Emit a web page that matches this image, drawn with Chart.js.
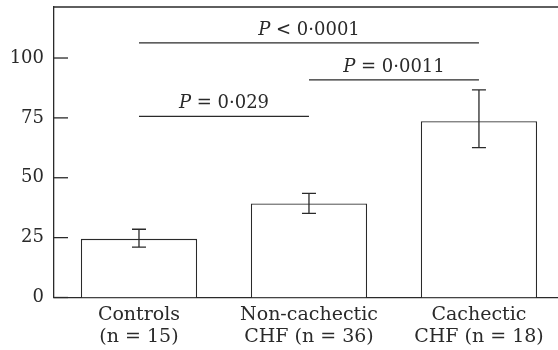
<!DOCTYPE html>
<html>
<head>
<meta charset="utf-8">
<script src="https://cdn.jsdelivr.net/npm/chart.js@4.4.0/dist/chart.umd.min.js"></script>
<style>
  html, body { margin: 0; padding: 0; background: #fff; }
  #wrap { width: 558px; height: 350px; }
</style>
</head>
<body>
<div id="wrap"><canvas id="chart" width="558" height="350"></canvas></div>
<script>
// group labels (two lines each)
const categories = [['Controls', '(n = 15)'], ['Non-cachectic', 'CHF (n = 36)'], ['Cachectic', 'CHF (n = 18)']];
const means = [24.5, 39.3, 73.6];
const errLow = [21.0, 35.1, 62.6];
const errHigh = [28.5, 43.5, 86.7];
const yTicks = [0, 25, 50, 75, 100];

// significance brackets
const sigFrom = [0, 1, 0];
const sigTo = [1, 2, 2];
const sigLevel = [75.6, 90.9, 106.3];
const sigText = [' = 0·029', ' = 0·0011', ' < 0·0001'];

const FONT = '"DejaVu Serif", serif';
const INK = '#2a2a2a';

const extras = {
  id: 'extras',
  afterDatasetsDraw(chart) {
    const ctx = chart.ctx;
    const xs = chart.scales.x, ys = chart.scales.y;
    const area = chart.chartArea;
    ctx.save();
    ctx.strokeStyle = INK;
    ctx.lineWidth = 1.3;

    // top frame line
    ctx.beginPath();
    ctx.moveTo(area.left, area.top);
    ctx.lineTo(area.right, area.top);
    ctx.stroke();

    // inward y ticks
    yTicks.forEach(v => {
      const y = ys.getPixelForValue(v);
      ctx.beginPath();
      ctx.moveTo(area.left, y);
      ctx.lineTo(area.left + 14, y);
      ctx.stroke();
    });

    // error bars
    means.forEach((m, i) => {
      const x = xs.getPixelForValue(i);
      const yl = ys.getPixelForValue(errLow[i]);
      const yh = ys.getPixelForValue(errHigh[i]);
      ctx.beginPath();
      ctx.moveTo(x, yl); ctx.lineTo(x, yh);
      ctx.moveTo(x - 7, yl); ctx.lineTo(x + 7, yl);
      ctx.moveTo(x - 7, yh); ctx.lineTo(x + 7, yh);
      ctx.stroke();
    });

    // significance lines + labels
    ctx.fillStyle = INK;
    ctx.textBaseline = 'alphabetic';
    sigLevel.forEach((lv, i) => {
      const x1 = xs.getPixelForValue(sigFrom[i]);
      const x2 = xs.getPixelForValue(sigTo[i]);
      const y = ys.getPixelForValue(lv);
      ctx.beginPath();
      ctx.moveTo(x1, y); ctx.lineTo(x2, y);
      ctx.stroke();

      ctx.font = 'italic 18px ' + FONT;
      const wP = ctx.measureText('P').width;
      ctx.font = '18px ' + FONT;
      const wR = ctx.measureText(sigText[i]).width;
      let sx = (x1 + x2) / 2 - (wP + wR) / 2;
      ctx.font = 'italic 18px ' + FONT;
      ctx.fillText('P', sx, y - 8);
      ctx.font = '18px ' + FONT;
      ctx.fillText(sigText[i], sx + wP, y - 8);
    });
    ctx.restore();
  }
};

new Chart(document.getElementById('chart'), {
  type: 'bar',
  data: {
    datasets: [{
      data: means.map((v, i) => ({ x: i, y: v })),
      backgroundColor: '#ffffff',
      borderColor: INK,
      borderWidth: 1.3,
      barPercentage: 0.684,
      categoryPercentage: 1
    }]
  },
  options: {
    responsive: false,
    animation: false,
    layout: { padding: { top: 7, right: 0, left: 0, bottom: 0 } },
    plugins: { legend: { display: false }, tooltip: { enabled: false } },
    scales: {
      x: {
        type: 'linear',
        offset: false,
        min: -0.5,
        max: 2.465,
        grid: { display: false, drawTicks: false, offset: false },
        border: { display: true, color: INK, width: 1.3 },
        afterBuildTicks: s => { s.ticks = categories.map((c, i) => ({ value: i })); },
        afterFit: s => { s.height = 52.5; s.paddingLeft = 0; s.paddingRight = 0; },
        ticks: {
          padding: 7,
          color: INK,
          font: { family: FONT, size: 19, lineHeight: 1.15 },
          maxRotation: 0,
          autoSkip: false,
          callback: v => categories[v]
        }
      },
      y: {
        min: 0,
        max: 121.3,
        grid: { display: false, drawTicks: false },
        border: { display: true, color: INK, width: 1.3 },
        afterBuildTicks: s => { s.ticks = yTicks.map(v => ({ value: v })); },
        afterFit: s => { s.width = 54; s.paddingTop = 0; s.paddingBottom = 0; },
        ticks: {
          padding: 10,
          color: INK,
          font: { family: FONT, size: 18 }
        }
      }
    }
  },
  plugins: [extras]
});
</script>
</body>
</html>
